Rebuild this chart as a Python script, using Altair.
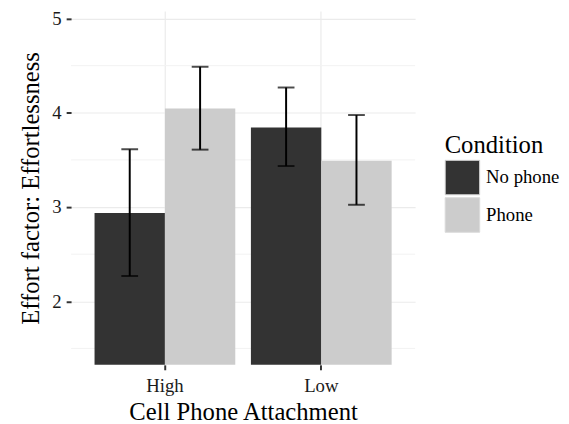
import altair as alt
import pandas as pd

attachment = ["High", "High", "Low", "Low"]
condition = ["No phone", "Phone", "No phone", "Phone"]
mean = [2.937, 4.046, 3.843, 3.491]
lower = [2.269, 3.609, 3.435, 3.024]
upper = [3.612, 4.488, 4.268, 3.976]
y_ticks = [2, 3, 4, 5]
minor_breaks = [1.5, 2.5, 3.5, 4.5]
y_domain = [1.326, 5.080]

df = pd.DataFrame({"Attachment": attachment, "Condition": condition,
                   "mean": mean, "lower": lower, "upper": upper})
minor_df = pd.DataFrame({"minor": minor_breaks})

FONT = "Liberation Serif"

x_axis = alt.Axis(title="Cell Phone Attachment", labelAngle=0,
                  bandPosition=0.5, grid=True, gridColor="#ebebeb",
                  gridWidth=1.2, domain=False, tickColor="#333333",
                  tickWidth=2, tickSize=5, labelPadding=7,
                  labelFont=FONT, labelFontSize=19, labelColor="#1a1a1a",
                  titleFont=FONT, titleFontSize=25, titleFontWeight="normal",
                  titleColor="black", titlePadding=4)
y_axis = alt.Axis(title="Effort factor: Effortlessness", values=y_ticks,
                  grid=True, gridColor="#ebebeb", gridWidth=1.2,
                  domain=False, tickColor="#333333", tickWidth=2, tickSize=5,
                  labelPadding=5, labelFont=FONT, labelFontSize=19,
                  labelColor="#1a1a1a", titleFont=FONT, titleFontSize=25,
                  titleFontWeight="normal", titleColor="black",
                  titleX=-28)

x_enc = alt.X("Attachment:N",
              scale=alt.Scale(paddingInner=0.1, paddingOuter=0.15), axis=x_axis)
xoff = alt.XOffset("Condition:N", scale=alt.Scale(paddingInner=0, paddingOuter=0))
y_scale = alt.Scale(domain=y_domain, zero=False, nice=False)

minor = alt.Chart(minor_df).mark_rule(color="#f2f2f2", strokeWidth=1).encode(
    y=alt.Y("minor:Q", scale=y_scale, axis=y_axis)
)

bars = alt.Chart(df).mark_bar(clip=True).encode(
    x=x_enc,
    xOffset=xoff,
    y=alt.Y("mean:Q", scale=y_scale, axis=y_axis),
    y2=alt.datum(0),
    fill=alt.Fill("Condition:N",
                  scale=alt.Scale(domain=["No phone", "Phone"],
                                  range=["#333333", "#cccccc"]),
                  legend=alt.Legend(title="Condition", orient="none",
                                    legendX=379, legendY=124,
                                    symbolType="square", symbolSize=1225,
                                    symbolStrokeColor="#d9d9d9",
                                    symbolStrokeWidth=1, symbolOpacity=1,
                                    rowPadding=-2, titlePadding=2,
                                    labelOffset=6, labelFont=FONT,
                                    labelFontSize=19, labelColor="black",
                                    titleFont=FONT, titleFontSize=25,
                                    titleFontWeight="normal", titleColor="black")),
)

err = alt.Chart(df).mark_rule(color="black", strokeWidth=2).encode(
    x=x_enc, xOffset=xoff,
    y=alt.Y("lower:Q", scale=y_scale, axis=y_axis),
    y2="upper:Q",
)
cap_lo = alt.Chart(df).mark_tick(color="black", thickness=2, size=17).encode(
    x=x_enc, xOffset=xoff,
    y=alt.Y("lower:Q", scale=y_scale, axis=y_axis),
)
cap_hi = alt.Chart(df).mark_tick(color="black", thickness=2, size=17).encode(
    x=x_enc, xOffset=xoff,
    y=alt.Y("upper:Q", scale=y_scale, axis=y_axis),
)

chart = alt.layer(minor, bars, err, cap_lo, cap_hi).properties(
    width=349, height=359,
    autosize=alt.AutoSizeParams(type="none"),
    padding={"left": 64, "top": 0, "right": 148, "bottom": 57},
).configure_view(stroke=None)

chart.save("out.html", embed_options={"renderer": "svg", "actions": False})
